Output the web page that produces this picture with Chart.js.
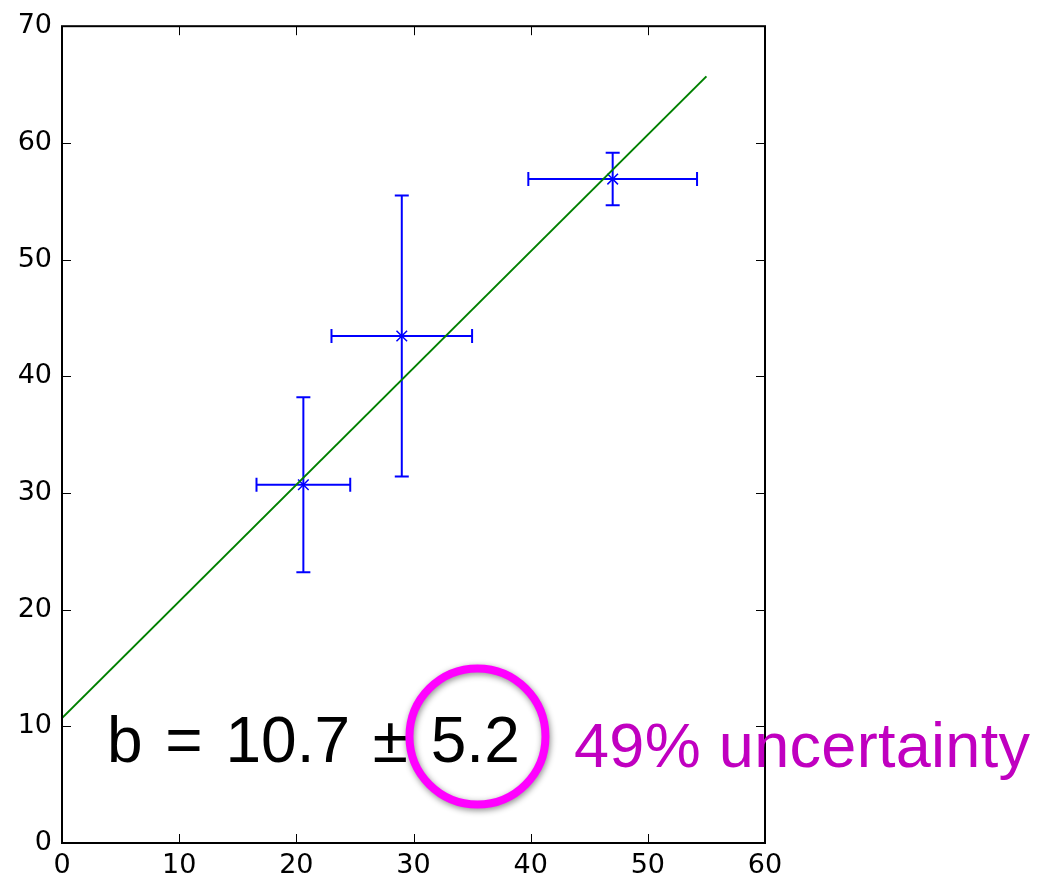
<!DOCTYPE html>
<html>
<head>
<meta charset="utf-8">
<script src="https://cdn.jsdelivr.net/npm/chart.js@4/dist/chart.umd.min.js"></script>
<style>
  html, body { margin: 0; padding: 0; background: #fff; }
  #wrap { width: 1037px; height: 879px; }
</style>
</head>
<body>
<div id="wrap"><canvas id="c" width="1037" height="879"></canvas></div>
<script>
// Measured points with their uncertainties
const xVals = [20.6, 29.0, 47.0];
const yVals = [30.7, 43.45, 56.9];
const xErr  = [4.0, 6.0, 7.2];
const yErr  = [7.5, 12.05, 2.25];

// Straight-line fit: y = b + m * x
const fitIntercept = 10.7;
const fitSlope = 1.0;
const fitRange = [0, 55];

// Intercept and its uncertainty, as shown in the annotation
const bValue = 10.7;
const bError = 5.2;
const bPercent = 49;

// Axis ranges and tick spacing
const xRange = [0, 60];
const yRange = [0, 70];
const xStep = 10;
const yStep = 10;

const BLUE = '#0000ff';
const GREEN = '#008000';

const fitData = fitRange.map(x => ({ x: x, y: fitIntercept + fitSlope * x }));

// One short dataset per error-bar arm; end caps come from the 'line' point style
const errDatasets = [];
xVals.forEach((x, i) => {
  const y = yVals[i];
  errDatasets.push({
    type: 'scatter', showLine: true,
    data: [{ x: x - xErr[i], y: y }, { x: x + xErr[i], y: y }],
    borderColor: BLUE, backgroundColor: BLUE, borderWidth: 2,
    pointStyle: 'line', pointRotation: 90, pointRadius: 7, pointBorderWidth: 2
  });
  errDatasets.push({
    type: 'scatter', showLine: true,
    data: [{ x: x, y: y - yErr[i] }, { x: x, y: y + yErr[i] }],
    borderColor: BLUE, backgroundColor: BLUE, borderWidth: 2,
    pointStyle: 'line', pointRotation: 0, pointRadius: 7, pointBorderWidth: 2
  });
});

const markerDataset = {
  type: 'scatter', showLine: false,
  data: xVals.map((x, i) => ({ x: x, y: yVals[i] })),
  borderColor: BLUE, backgroundColor: BLUE,
  pointStyle: 'crossRot', pointRadius: 7.5, pointBorderWidth: 1.5
};

// Frame on all four sides with inward tick marks
const framePlugin = {
  id: 'frame',
  afterDraw(chart) {
    const { ctx, chartArea: a, scales: { x, y } } = chart;
    ctx.save();
    ctx.strokeStyle = '#000';
    ctx.lineWidth = 1;
    const tl = 9;
    x.ticks.forEach(t => {
      const px = Math.round(x.getPixelForValue(t.value)) + 0.5;
      ctx.beginPath();
      ctx.moveTo(px, a.bottom); ctx.lineTo(px, a.bottom - tl);
      ctx.moveTo(px, a.top); ctx.lineTo(px, a.top + tl);
      ctx.stroke();
    });
    y.ticks.forEach(t => {
      const py = Math.round(y.getPixelForValue(t.value)) + 0.5;
      ctx.beginPath();
      ctx.moveTo(a.left, py); ctx.lineTo(a.left + tl, py);
      ctx.moveTo(a.right, py); ctx.lineTo(a.right - tl, py);
      ctx.stroke();
    });
    ctx.lineWidth = 2;
    ctx.strokeRect(a.left, a.top, a.right - a.left, a.bottom - a.top);
    ctx.restore();
  }
};

// Intercept annotation, highlight ring and relative-uncertainty note
const notePlugin = {
  id: 'note',
  afterDraw(chart) {
    const { ctx, scales: { x, y } } = chart;
    ctx.save();
    ctx.textBaseline = 'alphabetic';
    ctx.textAlign = 'left';

    ctx.font = '64px "Liberation Sans", Arial, sans-serif';
    ctx.fillStyle = '#000';
    ctx.wordSpacing = '5px';
    ctx.fillText('b = ' + bValue.toFixed(1) + ' \u00B1 ' + bError.toFixed(1),
                 x.getPixelForValue(3.84), y.getPixelForValue(6.94));
    ctx.wordSpacing = '0px';

    ctx.shadowColor = 'rgba(0,0,0,0.45)';
    ctx.shadowBlur = 6;
    ctx.shadowOffsetX = 1;
    ctx.shadowOffsetY = 2;
    ctx.strokeStyle = '#ff00ff';
    ctx.lineWidth = 8;
    ctx.beginPath();
    ctx.arc(x.getPixelForValue(35.46), y.getPixelForValue(9.13), 68, 0, Math.PI * 2);
    ctx.stroke();

    ctx.shadowColor = 'transparent';
    ctx.shadowBlur = 0;
    ctx.font = '63px "Liberation Sans", Arial, sans-serif';
    ctx.fillStyle = '#c000c0';
    ctx.letterSpacing = '0.3px';
    ctx.fillText(bPercent + '% uncertainty',
                 x.getPixelForValue(43.7), y.getPixelForValue(6.49));
    ctx.restore();
  }
};

Chart.defaults.font.family = '"DejaVu Sans", sans-serif';
Chart.defaults.color = '#000';

new Chart(document.getElementById('c'), {
  type: 'scatter',
  data: {
    datasets: [
      {
        type: 'scatter', showLine: true, data: fitData,
        borderColor: GREEN, borderWidth: 2, pointRadius: 0
      },
      markerDataset,
      ...errDatasets
    ]
  },
  options: {
    responsive: false,
    animation: false,
    events: [],
    layout: { padding: { left: 0, top: 23, right: 272, bottom: 0 } },
    plugins: { legend: { display: false }, tooltip: { enabled: false } },
    scales: {
      x: {
        type: 'linear', min: xRange[0], max: xRange[1],
        grid: { display: false, drawTicks: false },
        border: { display: false },
        ticks: { stepSize: xStep, font: { size: 27 }, color: '#000', padding: 7, maxRotation: 0 },
        afterFit: s => { s.height = 36; }
      },
      y: {
        type: 'linear', min: yRange[0], max: yRange[1],
        grid: { display: false, drawTicks: false },
        border: { display: false },
        ticks: { stepSize: yStep, font: { size: 27 }, color: '#000', padding: 10 },
        afterFit: s => { s.width = 62; }
      }
    }
  },
  plugins: [framePlugin, notePlugin]
});
</script>
</body>
</html>
